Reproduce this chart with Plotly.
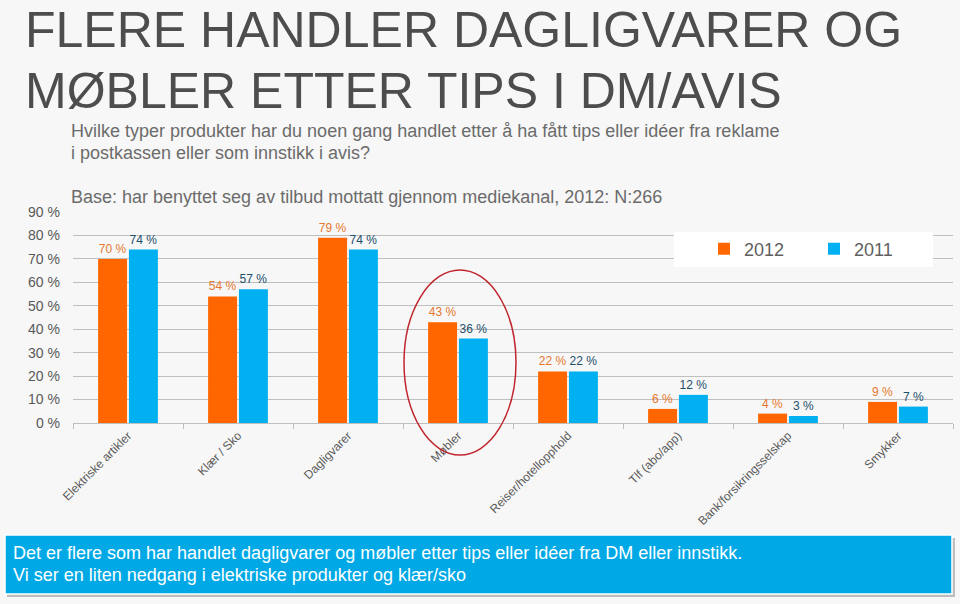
import plotly.graph_objects as go

categories = ["Elektriske artikler", "Klær / Sko", "Dagligvarer", "Møbler",
              "Reiser/hotellopphold", "Tlf (abo/app)", "Bank/forsikringsselskap", "Smykker"]
values_2012 = [70, 54, 79, 43, 22, 6, 4, 9]
values_2011 = [74, 57, 74, 36, 22, 12, 3, 7]
y_ticks = [0, 10, 20, 30, 40, 50, 60, 70, 80, 90]

W, H = 960, 604
L, R, T, B = 73, 953, 212, 423   # plot area in pixels


def px(x):
    return (x - L) / (R - L)


def py(y):
    return (B - y) / (B - T)


ORANGE = "#ff6600"
BLUE = "#00b0f0"
FONT = "Liberation Sans, Arial, sans-serif"

fig = go.Figure()
fig.add_trace(go.Bar(
    x=categories, y=values_2012, name="2012",
    marker=dict(color=ORANGE, line=dict(width=0)),
    text=[f"{v} %" for v in values_2012], textposition="outside",
    textfont=dict(color="#e6772e", size=12, family=FONT),
    cliponaxis=False,
))
fig.add_trace(go.Bar(
    x=categories, y=values_2011, name="2011",
    marker=dict(color=BLUE, line=dict(width=0)),
    text=[f"{v} %" for v in values_2011], textposition="outside",
    textfont=dict(color="#1c4f6b", size=12, family=FONT),
    cliponaxis=False,
))


def note(text, x, y, size, color, yanchor="middle"):
    return dict(text=text, x=px(x), y=py(y), xref="paper", yref="paper",
                xanchor="left", yanchor=yanchor, showarrow=False,
                font=dict(size=size, color=color, family=FONT))


annotations = [
    note("FLERE HANDLER DAGLIGVARER OG", 23, 0, 50, "#4d4d4d", yanchor="top"),
    note("MØBLER ETTER TIPS I DM/AVIS", 23, 91, 50, "#4d4d4d"),
    note("Hvilke typer produkter har du noen gang handlet etter å ha fått tips eller idéer fra reklame",
         69, 131, 18, "#6b6b6b"),
    note("i postkassen eller som innstikk i avis?", 69, 153, 18, "#6b6b6b"),
    note("Base: har benyttet seg av tilbud mottatt gjennom mediekanal, 2012: N:266", 69, 197, 18, "#6b6b6b"),
    note("Det er flere som har handlet dagligvarer og møbler etter tips eller idéer fra DM eller innstikk.",
         11, 553, 18, "white"),
    note("Vi ser en liten nedgang i elektriske produkter og klær/sko", 11, 575, 18, "white"),
]

shapes = [
    # legend background
    dict(type="rect", xref="paper", yref="paper", x0=px(674), x1=px(933), y0=py(267), y1=py(232),
         fillcolor="white", line=dict(width=0), layer="above"),
    # highlight ellipse around Møbler
    dict(type="circle", xref="paper", yref="paper", x0=px(404), x1=px(516), y0=py(455), y1=py(270),
         line=dict(color="#c0262d", width=1.5), layer="above"),
    # bottom box shadow + box
    dict(type="rect", xref="paper", yref="paper", x0=px(7), x1=px(955), y0=py(597), y1=py(538),
         fillcolor="#bdbdbd", line=dict(width=0)),
    dict(type="rect", xref="paper", yref="paper", x0=px(5), x1=px(952), y0=py(594), y1=py(535),
         fillcolor="#00a9e6", line=dict(color="white", width=1.5)),
]

fig.update_layout(
    width=W, height=H,
    margin=dict(l=L, r=W - R, t=T, b=H - B, autoexpand=False),
    paper_bgcolor="#f7f7f7", plot_bgcolor="#f7f7f7",
    barmode="group", bargap=0.44, bargroupgap=0.06,
    showlegend=True,
    legend=dict(orientation="h", x=px(704), y=py(249), xanchor="left", yanchor="middle",
                bgcolor="rgba(0,0,0,0)", font=dict(size=18, color="#5f5f5f", family=FONT),
                entrywidth=65, traceorder="normal"),
    annotations=annotations, shapes=shapes,
    font=dict(family=FONT, color="#595959"),
)
fig.update_yaxes(range=[0, 90], tickvals=y_ticks, ticktext=[f"{v} %" for v in y_ticks],
                 showgrid=True, gridcolor="#bfbfbf", gridwidth=1, zeroline=False,
                 tickfont=dict(size=14, color="#595959", family=FONT), ticks="", ticklen=0,
                 ticklabelstandoff=12, showline=False)
fig.update_xaxes(type="category", showline=True, linecolor="#bfbfbf", linewidth=1,
                 ticks="outside", tickson="boundaries", ticklen=5, tickcolor="#bfbfbf",
                 tickangle=-45, tickfont=dict(size=12, color="#595959", family=FONT))

fig.write_html("out.html", config={"displayModeBar": False},
               post_script="document.body.style.margin='0';document.body.style.background='#f7f7f7';")
